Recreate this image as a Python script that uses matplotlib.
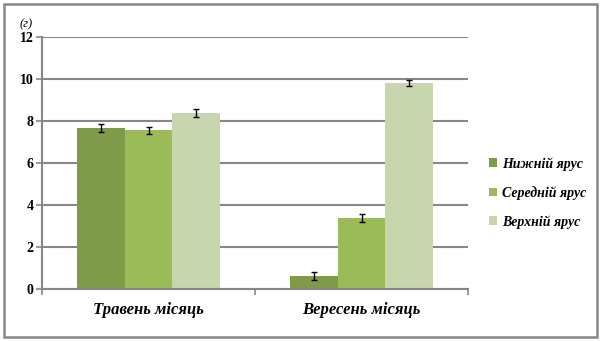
import numpy as np
import matplotlib.pyplot as plt
from matplotlib.patches import Rectangle

# дані
categories = ["Травень місяць", "Вересень місяць"]
series = ["Нижній ярус", "Середній ярус", "Верхній ярус"]
values = [[7.68, 0.62],   # нижній
          [7.55, 3.38],   # середній
          [8.38, 9.81]]   # верхній
errors = [[0.18, 0.17],
          [0.17, 0.18],
          [0.17, 0.16]]
colors = ["#7F9A48", "#9BBB59", "#C7D6AC"]
yticks = [0, 2, 4, 6, 8, 10, 12]

W, H = 602, 341
fig = plt.figure(figsize=(W / 100, H / 100), dpi=100)
serif = "Liberation Serif"

# рамка навколо всього
fig.patches.append(Rectangle((4 / W, 4 / H), 593 / W, 333 / H, transform=fig.transFigure,
                             fill=False, edgecolor="#878787", linewidth=1.8))

ax = fig.add_axes([42 / W, (H - 289) / H, 426 / W, 252 / H])
x = np.arange(len(categories))
w = 0.225
for i, name in enumerate(series):
    ax.bar(x + (i - 1) * w, values[i], w, color=colors[i], label=name, zorder=2,
           yerr=errors[i], error_kw=dict(ecolor="black", elinewidth=1, capsize=2, capthick=1))

ax.set_xlim(-0.5, 1.5)
ax.set_ylim(0, 12)
ax.set_yticks(yticks)
ax.set_yticklabels([str(v) for v in yticks], fontfamily=serif, fontweight="bold", fontsize=10)
ax.yaxis.grid(True, color="#878787", linewidth=1.5, zorder=0)
ax.set_axisbelow(True)
ax.tick_params(axis="y", length=4, width=1.2, color="#878787", pad=2)

ax.set_xticks(x)
ax.set_xticklabels(categories, fontfamily=serif, fontweight="bold", style="italic", fontsize=12)
ax.set_xticks([-0.5, 0.5, 1.5], minor=True)
ax.tick_params(axis="x", which="major", length=0, pad=9)
ax.tick_params(axis="x", which="minor", length=4, width=1.2, color="#878787")

for s in ["top", "right"]:
    ax.spines[s].set_visible(False)
for s in ["left", "bottom"]:
    ax.spines[s].set_color("#878787")
    ax.spines[s].set_linewidth(1.5)

fig.text(26 / W, (H - 24) / H, "(г)", fontfamily=serif, style="italic", fontsize=9,
         ha="center", va="center")

leg = ax.legend(loc="center left", bbox_to_anchor=(476 / W, (H - 193) / H),
                bbox_transform=fig.transFigure, frameon=False, handlelength=0.6,
                handleheight=0.6, handletextpad=0.4, labelspacing=1.1,
                prop=dict(family=serif, weight="bold", style="italic", size=10))

fig.savefig("out.png", dpi=100)
